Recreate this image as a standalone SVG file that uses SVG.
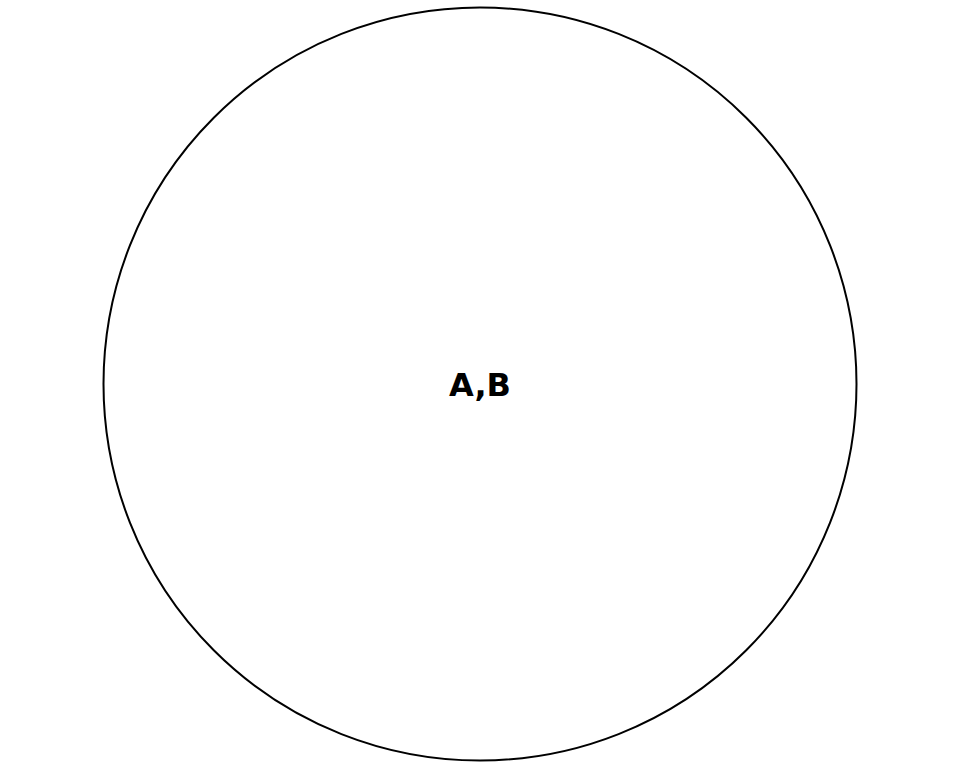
<svg xmlns="http://www.w3.org/2000/svg" width="960" height="768" viewBox="0 0 960 768">
<style>
.node-shape{fill:#ffffff;stroke:#000000;stroke-width:2}
.label{font-family:"DejaVu Sans",sans-serif;font-weight:bold;font-size:32px;fill:#000000}
</style>
<rect width="960" height="768" fill="#ffffff"/>
<g id="connectors"></g>
<g id="node-AB">
<circle class="node-shape" cx="480" cy="384" r="376.5"/>
<text class="label" x="480" y="396" text-anchor="middle">A,B</text>
</g>
</svg>
